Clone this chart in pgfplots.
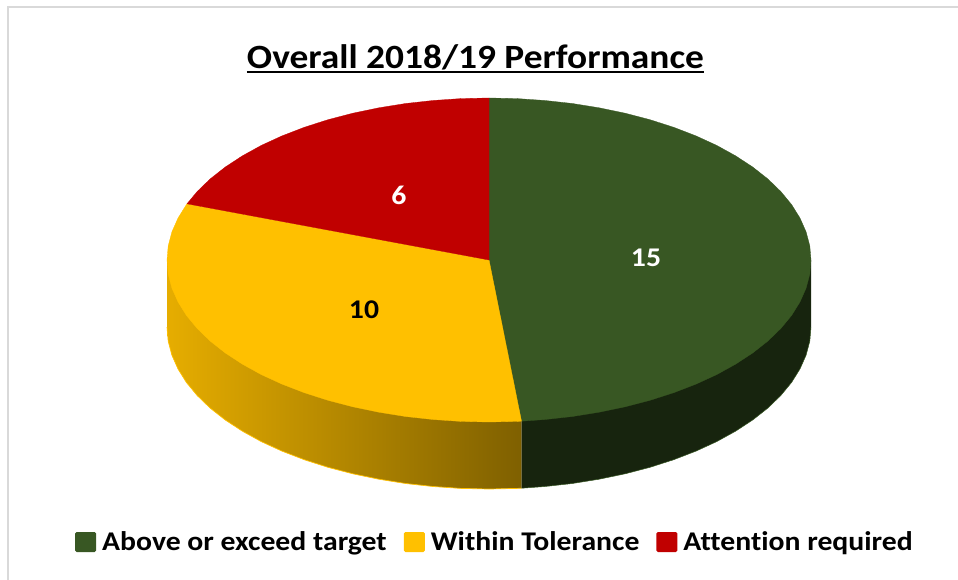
\documentclass[border=0pt]{standalone}
\usepackage{pgfplots}
\pgfplotsset{compat=1.18}
\usepackage{fontspec}
\setmainfont{Carlito}
\newfontfamily\chartfont[FakeStretch=1.10,Ligatures=NoCommon]{Carlito}
\definecolor{cGreen}{HTML}{385723}
\definecolor{cGreenSide}{HTML}{17240E}
\definecolor{cYellow}{HTML}{FFC000}
\definecolor{cYelL}{HTML}{E6AD00}
\definecolor{cYelR}{HTML}{7F6000}
\definecolor{cRed}{HTML}{C00000}
\definecolor{cBorder}{HTML}{D9D9D9}
\newcommand\ulbox[1]{\setbox0\hbox{#1}\rlap{\rule[-5pt]{\wd0}{2.5pt}}\box0}
\begin{document}
\begin{tikzpicture}
\path[use as bounding box] (0,0) rectangle (958pt,580pt);
\begin{axis}[
  at={(0,0)}, anchor=south west,
  scale only axis, width=958pt, height=580pt,
  xmin=0, xmax=958, ymin=0, ymax=580, y dir=reverse,
  axis lines=none, clip=false,
  title={\ulbox{\chartfont\bfseries\fontsize{34}{38}\selectfont Overall 2018/19 Performance}},
  title style={at={(axis cs:475.5,65)}, anchor=center, inner sep=0pt},
  legend image code/.code={\path[draw=none,fill=none] (25pt,0pt);\fill[#1,draw=none,rounded corners=1.5pt] (0pt,-10pt) rectangle (21pt,10pt);},
  legend columns=3,
  legend style={at={(axis cs:75,542)}, anchor=west, draw=none, fill=none, inner sep=0pt,
    font=\chartfont\bfseries\fontsize{27}{30}\selectfont,
    /tikz/every even column/.append style={column sep=15pt}},
  nodes near coords style={anchor=center, inner sep=0pt, font=\chartfont\bfseries\fontsize{27}{30}\selectfont},
]
% chart area border
\addplot[forget plot, color=cBorder, line width=2.5pt] coordinates {(8,580) (8,7) (958,7)};
% side walls
\addplot[forget plot, draw=none, left color=cYelL, right color=cYelR] coordinates {
(521.5,260)(521.5,488.2)(517.1,488.4)(489,489)(460.9,488.4)(433.1,486.5)(405.7,483.5)(378.9,479.2)(352.9,473.8)(328,467.3)(304.3,459.7)(282,451.1)(261.3,441.6)(242.3,431.1)(225.2,419.9)(210.1,408)(197.2,395.5)(186.4,382.4)(178,368.9)(171.9,355.1)(168.2,341.1)(167,327)(167,260)
} --cycle;
\addplot[forget plot, draw=none, fill=cGreenSide] coordinates {
(811,260)(811,327)(809.8,341.1)(806.1,355.1)(800,368.9)(791.6,382.4)(780.8,395.5)(767.9,408)(752.8,419.9)(735.7,431.1)(716.7,441.6)(696,451.1)(673.7,459.7)(650,467.3)(625.1,473.8)(599.1,479.2)(572.3,483.5)(544.9,486.5)(521.5,488.2)(521.5,260)
} --cycle;
% thin edges along the foot of the walls
\addplot[forget plot, color=cYellow, line width=.7pt] coordinates {
(521.5,488.2)(517.1,488.4)(489,489)(460.9,488.4)(433.1,486.5)(405.7,483.5)(378.9,479.2)(352.9,473.8)(328,467.3)(304.3,459.7)(282,451.1)(261.3,441.6)(242.3,431.1)(225.2,419.9)(210.1,408)(197.2,395.5)(186.4,382.4)(178,368.9)(171.9,355.1)(168.2,341.1)(167,327)
};
\addplot[forget plot, color=cGreen, line width=.5pt] coordinates {
(811,327)(809.8,341.1)(806.1,355.1)(800,368.9)(791.6,382.4)(780.8,395.5)(767.9,408)(752.8,419.9)(735.7,431.1)(716.7,441.6)(696,451.1)(673.7,459.7)(650,467.3)(625.1,473.8)(599.1,479.2)(572.3,483.5)(544.9,486.5)(521.5,488.2)
};
% top faces: 15, 10 and 6 of 31
\addplot[draw=cGreen, line width=.3pt, fill=cGreen] coordinates {
(489,260)(489,98)(517.1,98.6)(544.9,100.5)(572.3,103.5)(599.1,107.8)(625.1,113.2)(650,119.7)(673.7,127.3)(696,135.9)(716.7,145.4)(735.7,155.9)(752.8,167.1)(767.9,179)(780.8,191.5)(791.6,204.6)(800,218.1)(806.1,231.9)(809.8,245.9)(811,260)(809.8,274.1)(806.1,288.1)(800,301.9)(791.6,315.4)(780.8,328.5)(767.9,341)(752.8,352.9)(735.7,364.1)(716.7,374.6)(696,384.1)(673.7,392.7)(650,400.3)(625.1,406.8)(599.1,412.2)(572.3,416.5)(544.9,419.5)(521.5,421.2)
} --cycle;
\addplot[draw=cYellow, line width=.3pt, fill=cYellow] coordinates {
(489,260)(521.5,421.2)(517.1,421.4)(489,422)(460.9,421.4)(433.1,419.5)(405.7,416.5)(378.9,412.2)(352.9,406.8)(328,400.3)(304.3,392.7)(282,384.1)(261.3,374.6)(242.3,364.1)(225.2,352.9)(210.1,341)(197.2,328.5)(186.4,315.4)(178,301.9)(171.9,288.1)(168.2,274.1)(167,260)(168.2,245.9)(171.9,231.9)(178,218.1)(186.4,204.6)(187,203.8)
} --cycle;
\addplot[draw=cRed, line width=.3pt, fill=cRed] coordinates {
(489,260)(187,203.8)(197.2,191.5)(210.1,179)(225.2,167.1)(242.3,155.9)(261.3,145.4)(282,135.9)(304.3,127.3)(328,119.7)(352.9,113.2)(378.9,107.8)(405.7,103.5)(433.1,100.5)(460.9,98.6)(489,98)
} --cycle;
% data labels
\addplot[forget plot, draw=none, mark=none, point meta=explicit symbolic, nodes near coords,
  nodes near coords style={text=white}] coordinates {(646,258)[15] (399,195)[6]};
\addplot[forget plot, draw=none, mark=none, point meta=explicit symbolic, nodes near coords,
  nodes near coords style={text=black}] coordinates {(364,310)[10]};
\legend{Above or exceed target, Within Tolerance, Attention required}
\end{axis}
\end{tikzpicture}
\end{document}
